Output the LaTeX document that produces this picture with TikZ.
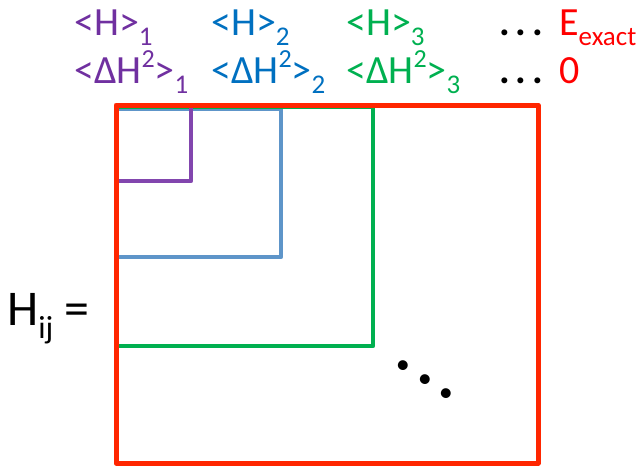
\documentclass[tikz,border=0pt]{standalone}
\usepackage{fontspec}
\setmainfont{Carlito}
\definecolor{tpurple}{HTML}{7030A0}
\definecolor{tblue}{HTML}{0070C0}
\definecolor{tgreen}{HTML}{00B050}
\definecolor{tred}{HTML}{FF0000}
\definecolor{bpurple}{HTML}{8246AE}
\definecolor{bblue}{HTML}{5E95C9}
\definecolor{bgreen}{HTML}{00B050}
\definecolor{bred}{HTML}{FF2600}
\newcommand{\mysub}[1]{\raisebox{-0.27em}{\fontsize{27}{27}\selectfont #1}}
\newcommand{\mysup}[1]{\raisebox{0.40em}{\fontsize{26}{26}\selectfont #1}}
\newcommand{\mydots}{\textbf{.\hspace{6pt}.\hspace{6pt}.}}
\begin{document}
\begin{tikzpicture}[x=1pt,y=-1pt,
  lbl/.style={anchor=base west,inner sep=0pt,font=\fontsize{40}{40}\selectfont},
  box/.style={line width=4.5pt,line join=round}]
\useasboundingbox (0,0) rectangle (642,466);
% boxes
\draw[box,bblue] (117,109) rectangle (281,257);
\draw[box,bgreen] (117,107) rectangle (373,346);
\draw[box,bpurple] (117,181) -- (191,181) -- (191,108);
\draw[box,bred,line width=5pt] (116,105) rectangle (538,463);
% labels row 1
\node[lbl,text=tpurple] (h1) at (74,35) {<H>\mysub{1}};
\node[lbl,text=tblue] (h2) at (211,35) {<H>\mysub{2}};
\node[lbl,text=tgreen] (h3) at (346,35) {<H>\mysub{3}};
\node[lbl] (d1) at (499,35) {\mydots};
\node[lbl,text=tred] (ex) at (559,35) {E\mysub{exact}};
% labels row 2
\node[lbl,text=tpurple] (v1) at (74,83) {<ΔH\mysup{2}>\mysub{1}};
\node[lbl,text=tblue] (v2) at (211,83) {<ΔH\mysup{2}>\mysub{2}};
\node[lbl,text=tgreen] (v3) at (346,83) {<ΔH\mysup{2}>\mysub{3}};
\node[lbl] (d2) at (499,83) {\mydots};
\node[lbl,text=tred] (zero) at (559,83) {0};
% H_ij =
\node[lbl,font=\fontsize{50}{50}\selectfont] (hij) at (7,325) {H\raisebox{-0.27em}{\fontsize{32}{32}\selectfont ij} =};
% diagonal dots
\node[inner sep=0pt,rotate=-33,font=\fontsize{66}{66}\selectfont\bfseries] (dd) at (425,380) {.\hspace{8pt}.\hspace{8pt}.};
\end{tikzpicture}
\end{document}
